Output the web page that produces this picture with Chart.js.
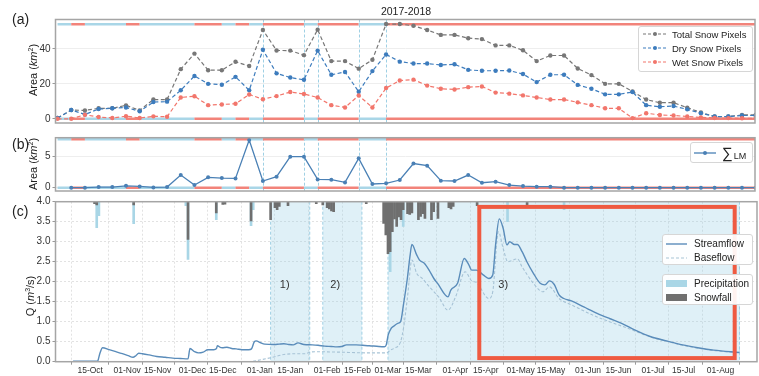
<!DOCTYPE html>
<html>
<head>
<meta charset="utf-8">
<script src="https://cdn.jsdelivr.net/npm/chart.js@4.4.1/dist/chart.umd.min.js"></script>
<style>
  body { margin: 0; background: #fff; }
  #fig { position: relative; width: 759px; height: 376px; overflow: hidden;
         font-family: "Liberation Sans", Arial, sans-serif; color: #222; }
  #fig canvas { position: absolute; left: 0; }
  .plab { position: absolute; font-size: 14px; line-height: 16px; }
  .ytitle { position: absolute; font-size: 11px; white-space: nowrap;
            transform: translate(-50%, -50%) rotate(-90deg); }
  .legend { position: absolute; border: 1px solid #d6d6d6; border-radius: 3px;
            background: rgba(255,255,255,0.92); box-sizing: border-box; }
  .item { position: absolute; left: 0; display: flex; align-items: center; white-space: nowrap; }
  .item svg { display: block; }
  #title { position: absolute; left: 406px; top: 5px; transform: translateX(-50%);
           font-size: 10.5px; }
</style>
</head>
<body>
<div id="fig">
  <canvas id="cA" width="759" height="127" style="top:0px"></canvas>
  <canvas id="cB" width="759" height="65" style="top:130px"></canvas>
  <canvas id="cC" width="759" height="181" style="top:195px"></canvas>

  <div id="title">2017-2018</div>
  <div class="plab" style="left:12px;top:11px">(a)</div>
  <div class="plab" style="left:12px;top:136px">(b)</div>
  <div class="plab" style="left:12px;top:203px">(c)</div>

  <div class="ytitle" style="left:33px;top:70px">Area (<i>km</i><sup style="font-size:7px">2</sup>)</div>
  <div class="ytitle" style="left:33px;top:164px">Area (<i>km</i><sup style="font-size:7px">2</sup>)</div>
  <div class="ytitle" style="left:30px;top:296px">Q (<i>m</i><sup style="font-size:7px">3</sup>/s)</div>

  <!-- snow pixel legend -->
  <div class="legend" style="left:638px;top:26px;width:115px;height:46px;font-size:9.5px">
    <div class="item" style="top:1px;height:12px">
      <svg width="24" height="8" style="margin-left:4px"><line x1="0" y1="4" x2="24" y2="4" stroke="#777" stroke-width="1.2" stroke-dasharray="3,2"/><circle cx="12" cy="4" r="2" fill="#777"/></svg>
      <span style="margin-left:5px">Total Snow Pixels</span></div>
    <div class="item" style="top:15px;height:12px">
      <svg width="24" height="8" style="margin-left:4px"><line x1="0" y1="4" x2="24" y2="4" stroke="#3d7cbd" stroke-width="1.2" stroke-dasharray="3,2"/><circle cx="12" cy="4" r="2" fill="#3d7cbd"/></svg>
      <span style="margin-left:5px">Dry Snow Pixels</span></div>
    <div class="item" style="top:29px;height:12px">
      <svg width="24" height="8" style="margin-left:4px"><line x1="0" y1="4" x2="24" y2="4" stroke="#f2766c" stroke-width="1.2" stroke-dasharray="3,2"/><circle cx="12" cy="4" r="2" fill="#f2766c"/></svg>
      <span style="margin-left:5px">Wet Snow Pixels</span></div>
  </div>

  <!-- lateral melt legend -->
  <div class="legend" style="left:690px;top:142px;width:63px;height:21px">
    <div class="item" style="top:1px;height:18px">
      <svg width="22" height="8" style="margin-left:3px"><line x1="0" y1="4" x2="22" y2="4" stroke="#4a80b5" stroke-width="1.3"/><circle cx="11" cy="4" r="2" fill="#4a80b5"/></svg>
      <span style="margin-left:6px;font-size:15px;line-height:16px">∑</span><span style="font-size:9px;margin-top:5px;margin-left:1px">LM</span></div>
  </div>

  <!-- streamflow legend -->
  <div class="legend" style="left:662px;top:234px;width:91px;height:31px;font-size:10px">
    <div class="item" style="top:2px;height:13px">
      <svg width="21" height="6" style="margin-left:3px"><line x1="0" y1="3" x2="21" y2="3" stroke="#5a8cba" stroke-width="1.4"/></svg>
      <span style="margin-left:7px">Streamflow</span></div>
    <div class="item" style="top:16px;height:13px">
      <svg width="21" height="6" style="margin-left:3px"><line x1="0" y1="3" x2="21" y2="3" stroke="#a7c3d6" stroke-width="1.1" stroke-dasharray="3,2"/></svg>
      <span style="margin-left:7px">Baseflow</span></div>
  </div>
  <div class="legend" style="left:662px;top:274px;width:91px;height:31px;font-size:10px">
    <div class="item" style="top:2px;height:13px">
      <svg width="21" height="7" style="margin-left:3px"><rect x="0" y="0" width="21" height="7" fill="#a9d6e6"/></svg>
      <span style="margin-left:7px">Precipitation</span></div>
    <div class="item" style="top:16px;height:13px">
      <svg width="21" height="7" style="margin-left:3px"><rect x="0" y="0" width="21" height="7" fill="#6f6f6f"/></svg>
      <span style="margin-left:7px">Snowfall</span></div>
  </div>
</div>

<script>
// ---- time axis: days counted from 1 Oct 2017 ----
const DAY_MIN = 6.1, DAY_MAX = 312.7;
const tickDays = [14, 31, 45, 61, 75, 92, 106, 123, 137, 151, 165, 182, 196, 212, 226, 243, 257, 273, 287, 304];
const tickLabels = ['15-Oct', '01-Nov', '15-Nov', '01-Dec', '15-Dec', '01-Jan', '15-Jan', '01-Feb', '15-Feb',
                    '01-Mar', '15-Mar', '01-Apr', '15-Apr', '01-May', '15-May', '01-Jun', '15-Jun', '01-Jul',
                    '15-Jul', '01-Aug'];

// ---- SAR acquisitions (6-day revisit) ----
const obsDays = [7, 13, 19, 25, 31, 37, 43, 49, 55, 61, 67, 73, 79, 85, 91, 97, 103, 109, 115, 121, 127, 133,
                 139, 145, 151, 157, 163, 169, 175, 181, 187, 193, 199, 205, 211, 217, 223, 229, 235, 241, 247,
                 253, 259, 265, 271, 277, 283, 289, 295, 301, 307, 313];
const totalSnow = [0.5, 5.0, 4.8, 6.0, 6.0, 7.7, 4.8, 11.0, 11.0, 28.4, 37.3, 27.8, 27.8, 32.6, 30.2, 50.8, 39.1,
                   39.0, 36.4, 51.0, 33.0, 33.0, 28.7, 33.8, 54.2, 54.2, 53.2, 50.8, 48.0, 48.0, 46.1, 45.6, 42.0,
                   42.0, 39.2, 33.0, 36.2, 36.2, 28.8, 25.0, 20.0, 20.0, 15.7, 11.0, 9.2, 9.2, 6.4, 3.6, 1.3, 1.3,
                   2.2, 2.2];
const drySnow = [0.5, 5.0, 2.5, 5.6, 6.0, 6.5, 4.3, 9.6, 9.8, 16.3, 24.5, 20.0, 19.5, 24.0, 16.3, 39.5, 26.0,
                 23.6, 22.3, 39.0, 25.2, 26.8, 15.5, 27.3, 36.8, 32.7, 31.6, 31.6, 30.8, 31.2, 28.0, 27.5, 27.5,
                 27.6, 25.6, 21.0, 25.2, 25.2, 19.4, 17.2, 14.0, 14.0, 15.3, 7.8, 6.9, 7.3, 5.4, 3.2, 1.3, 1.3,
                 1.9, 1.9];
const wetSnow = [0.0, 0.0, 2.3, 1.0, 0.5, 1.5, 0.5, 1.4, 1.2, 12.2, 12.9, 7.8, 8.2, 8.6, 13.9, 11.2, 13.0, 15.3,
                 14.2, 12.2, 7.8, 6.5, 13.3, 6.5, 17.6, 21.9, 22.4, 19.0, 17.2, 16.8, 18.1, 18.5, 15.0, 14.4, 13.4,
                 12.2, 11.0, 11.0, 9.4, 7.8, 6.0, 6.0, 0.4, 3.2, 2.2, 1.9, 1.3, 0.8, 0.5, 0.4, 0.3, 0.3];
// lateral melt area (sum), km2
const lateralMelt = [null, 0, 0, 0.1, 0.1, 0.3, 0.2, 0.05, 0.1, 2.04, 0.43, 1.67, 1.56, 1.5, 7.7, 1.08, 1.77,
                     5.0, 5.0, 1.34, 1.29, 0.86, 4.73, 0.6, 0.7, 1.24, 3.9, 3.55, 1.13, 1.08, 2.04, 0.8, 0.97,
                     0.43, 0.27, 0.16, 0.16, 0, 0, 0, 0, 0, 0, 0, 0, 0, 0, 0, 0, 0, 0, 0];
// 1 = wet-snow interval starting at that acquisition
const wetInterval = [0, 1, 0, 0, 0, 1, 0, 0, 0, 0, 1, 1, 0, 1, 0, 1, 1, 1, 0, 1, 1, 1, 0, 0, 1, 1, 1, 1, 1, 1,
                     1, 1, 1, 1, 1, 1, 1, 1, 1, 1, 1, 1, 1, 1, 1, 1, 1, 1, 1, 1, 1, 1];

// ---- melt periods ----
const periodStart = [97, 121, 151];
const periodEnd = [115, 139, DAY_MAX];
const periodNames = ['1)', '2)', '3)'];

// ---- discharge (m3/s) ----
const flowDays = [6.1, 12.7, 17.1, 17.5, 18.4, 19.7, 22.7, 25.8, 28.8, 31.5, 33.7, 35.0, 36.3, 38.0, 41.1, 44.6,
  48.5, 52.0, 55.5, 59.0, 59.9, 62.0, 63.8, 66.0, 68.1, 70.8, 72.1, 72.5, 73.8, 74.7, 76.9, 79.1, 81.2, 83.9,
  86.9, 88.2, 89.5, 90.4, 92.2, 94.3, 98.7, 100.9, 103.1, 105.3, 107.4, 109.6, 112.3, 116.2, 118.8, 121.9,
  124.9, 127.5, 129.7, 131.9, 136.3, 139.3, 142.4, 146.8, 149.4, 150.2, 151.1, 152.4, 153.7, 155.5, 156.8,
  158.1, 159.9, 161.2, 162.0, 164.2, 165.5, 167.7, 169.9, 172.1, 174.3, 177.3, 178.6, 179.9, 183.0, 186.1,
  188.2, 189.5, 191.7, 194.8, 197.4, 199.2, 200.5, 202.2, 204.0, 205.7, 207.0, 209.2, 210.5, 212.7, 214.9,
  217.9, 221.0, 223.2, 225.3, 227.5, 229.7, 231.9, 235.4, 241.1, 247.2, 252.9, 258.5, 264.7, 271.6, 279.1,
  286.5, 293.5, 300.9, 312.7];
const streamflow = [0.01, 0.01, 0.01, 0.02, 0.2, 0.35, 0.3, 0.25, 0.2, 0.15, 0.11, 0.15, 0.21, 0.2, 0.17, 0.13,
  0.11, 0.09, 0.08, 0.07, 0.33, 0.25, 0.22, 0.24, 0.3, 0.3, 0.33, 0.4, 0.36, 0.35, 0.36, 0.33, 0.32, 0.3, 0.3,
  0.32, 0.5, 0.52, 0.48, 0.44, 0.43, 0.44, 0.45, 0.43, 0.42, 0.47, 0.43, 0.42, 0.41, 0.39, 0.38, 0.37, 0.38,
  0.42, 0.42, 0.41, 0.4, 0.38, 0.375, 0.42, 0.67, 0.83, 0.89, 0.96, 1.0, 1.42, 2.08, 2.67, 2.93, 2.67, 2.54,
  2.46, 2.29, 2.08, 1.92, 1.67, 1.62, 1.79, 1.96, 2.58, 2.42, 2.29, 2.29, 2.17, 2.08, 2.17, 2.92, 3.57, 3.33,
  2.92, 3.0, 2.93, 2.93, 2.75, 2.5, 2.21, 1.96, 1.92, 2.02, 1.93, 1.67, 1.58, 1.52, 1.37, 1.21, 1.08, 0.96,
  0.79, 0.63, 0.52, 0.42, 0.35, 0.29, 0.23];
const baseDays = [6.1, 86.9, 92.6, 97.0, 103.1, 108.8, 113.1, 115.3, 117.5, 127.5, 142.4, 149.4, 150.2, 152.4,
  153.7, 156.8, 158.1, 159.9, 162.0, 164.2, 166.8, 169.9, 174.3, 178.6, 182.1, 186.5, 189.5, 191.7, 197.4,
  199.2, 201.8, 204.0, 206.1, 210.5, 212.7, 217.9, 222.3, 225.3, 229.7, 235.4, 247.2, 252.9, 261.6, 271.6,
  279.1, 286.5, 293.5, 300.9, 312.7];
const baseflow = [0.0, 0.0, 0.05, 0.1, 0.18, 0.2, 0.2, 0.24, 0.25, 0.24, 0.22, 0.22, 0.22, 0.3, 0.33, 0.5, 0.83,
  1.58, 2.54, 2.21, 2.08, 1.88, 1.62, 1.29, 1.62, 2.25, 2.02, 1.98, 1.58, 1.75, 3.25, 2.83, 2.5, 2.57, 2.37,
  1.96, 1.75, 1.87, 1.58, 1.42, 1.12, 1.0, 0.83, 0.62, 0.51, 0.41, 0.34, 0.28, 0.22];

// ---- daily precipitation / snowfall (mm) ----
const precipDays = [17, 18, 34, 58, 59, 72, 88, 89, 152, 158, 206, 232];
const precipMm = [6.5, 3.5, 5.5, 1.0, 14.4, 4.5, 6.0, 2.0, 17.5, 6.2, 5.0, 2.0];
const snowDays = [16, 17, 34, 59, 72, 75, 76, 88, 97, 99, 100, 101, 105, 118, 121, 123, 124, 125, 126, 141,
                  149, 150, 151, 152, 153, 154, 155, 156, 157, 158, 160, 161, 162, 165, 166, 167, 168, 171, 172,
                  174, 179, 180, 181, 192, 215];
const snowMm = [0.5, 0.8, 0.8, 9.4, 2.8, 0.7, 0.6, 4.8, 4.5, 1.5, 2.0, 1.2, 1.0, 0.5, 0.8, 1.5, 1.8, 2.3, 2.5, 0.5,
                5.4, 8.3, 13.0, 12.5, 7.5, 4.3, 6.2, 3.8, 4.5, 2.0, 3.0, 3.2, 2.8, 4.5, 3.7, 3.0, 4.2, 4.5, 2.5,
                4.2, 1.5, 1.8, 1.2, 1.0, 0.8];

// ---- styling ----
const FONT = '"Liberation Sans", Arial, sans-serif';
Chart.defaults.font.family = FONT;
const WET_RED = '#f2837a', DRY_BLUE = '#a9d6e7';
const GRID = '#eeeeee';

const pts = (xs, ys) => xs.map((x, i) => ({ x, y: ys[i] }));
// fixed y-axis width, and no extra room reserved for the end tick labels
const fixedY = s => { s.width = 55.5; s.paddingTop = 0; s.paddingBottom = 0; };

const framePlugin = {
  id: 'frame',
  afterDraw(chart) {
    const { ctx, chartArea: a } = chart;
    ctx.save();
    ctx.strokeStyle = '#a5a5a5';
    ctx.lineWidth = 1.5;
    ctx.strokeRect(a.left, a.top, a.right - a.left, a.bottom - a.top);
    ctx.restore();
  }
};

// dashed vertical marks at the start/end of each melt period
const periodEdgePlugin = {
  id: 'periodEdges',
  beforeDatasetsDraw(chart) {
    const { ctx, chartArea: a, scales: { x } } = chart;
    ctx.save();
    ctx.strokeStyle = '#9fd0e4';
    ctx.lineWidth = 1;
    ctx.setLineDash([3, 2]);
    periodStart.forEach((s, i) => {
      [s, periodEnd[i]].forEach(d => {
        if (d >= DAY_MAX) return;
        const px = Math.round(x.getPixelForValue(d)) + 0.5;
        ctx.beginPath(); ctx.moveTo(px, a.top); ctx.lineTo(px, a.bottom); ctx.stroke();
      });
    });
    ctx.restore();
  }
};

// shaded melt periods in the discharge panel
const periodShadePlugin = {
  id: 'periodShade',
  beforeDatasetsDraw(chart) {
    const { ctx, chartArea: a, scales: { x } } = chart;
    ctx.save();
    periodStart.forEach((s, i) => {
      const x0 = x.getPixelForValue(s), x1 = x.getPixelForValue(periodEnd[i]);
      ctx.fillStyle = 'rgba(150, 206, 228, 0.3)';
      ctx.fillRect(x0, a.top, x1 - x0, a.bottom - a.top);
      ctx.strokeStyle = '#9fd0e4';
      ctx.lineWidth = 1;
      ctx.setLineDash([3, 2]);
      [x0, x1].forEach(px => {
        if (px >= a.right - 1) return;
        ctx.beginPath(); ctx.moveTo(px, a.top); ctx.lineTo(px, a.bottom); ctx.stroke();
      });
    });
    ctx.restore();
  },
  afterDatasetsDraw(chart) {
    const { ctx, scales: { x, y } } = chart;
    ctx.save();
    ctx.fillStyle = '#333';
    ctx.font = '11px ' + FONT;
    ctx.textAlign = 'center';
    ctx.textBaseline = 'middle';
    const labelDays = [103.5, 126.7, 204];
    periodNames.forEach((t, i) => ctx.fillText(t, x.getPixelForValue(labelDays[i]), y.getPixelForValue(1.92)));
    // highlighted recession window
    const bx0 = x.getPixelForValue(193), bx1 = x.getPixelForValue(310.5);
    const by0 = y.getPixelForValue(3.87), by1 = y.getPixelForValue(0.09);
    ctx.strokeStyle = '#ef5a41';
    ctx.lineWidth = 4;
    ctx.strokeRect(bx0, by0, bx1 - bx0, by1 - by0);
    ctx.restore();
  }
};

function statusLine(level, yAxis) {
  return {
    data: obsDays.map(d => ({ x: d, y: level })),
    yAxisID: yAxis,
    borderWidth: 2.5,
    pointRadius: 0,
    borderColor: DRY_BLUE,
    segment: { borderColor: c => (wetInterval[c.p0DataIndex] ? WET_RED : DRY_BLUE) },
    order: 10
  };
}

function snowSeries(values, color, order) {
  return {
    data: pts(obsDays, values),
    borderColor: color,
    backgroundColor: color,
    borderWidth: 1.2,
    borderDash: [4, 2.5],
    pointRadius: 2.2,
    pointBorderWidth: 0,
    order
  };
}

const yTickStyle = { font: { size: 10 }, color: '#333', padding: 2 };
const baseOptions = () => ({
  responsive: false,
  animation: false,
  events: [],
  plugins: { legend: { display: false }, tooltip: { enabled: false } }
});

// ---- (a) snow pixels ----
new Chart(document.getElementById('cA'), {
  type: 'line',
  data: {
    datasets: [
      statusLine(54.1, 'y'), statusLine(0, 'y'),
      snowSeries(totalSnow, '#777777', 3),
      snowSeries(drySnow, '#3d7cbd', 2),
      snowSeries(wetSnow, '#f2766c', 1)
    ]
  },
  options: Object.assign(baseOptions(), {
    layout: { padding: { top: 19.5, bottom: 2, left: 0, right: 2 } },
    scales: {
      x: { type: 'linear', min: DAY_MIN, max: DAY_MAX, display: false },
      y: {
        min: -2.4, max: 56.8,
        afterFit: fixedY,
        afterBuildTicks: s => { s.ticks = [0, 20, 40].map(v => ({ value: v })); },
        ticks: yTickStyle,
        grid: { color: GRID, tickLength: 3, tickColor: '#999' },
        border: { display: false }
      }
    }
  }),
  plugins: [periodEdgePlugin, framePlugin]
});

// ---- (b) lateral melt ----
new Chart(document.getElementById('cB'), {
  type: 'line',
  data: {
    datasets: [
      statusLine(7.8, 'y'), statusLine(0, 'y'),
      {
        data: pts(obsDays, lateralMelt),
        borderColor: '#4a80b5', backgroundColor: '#4a80b5',
        borderWidth: 1.3, pointRadius: 2, pointBorderWidth: 0, order: 1
      }
    ]
  },
  options: Object.assign(baseOptions(), {
    layout: { padding: { top: 7.7, bottom: 4, left: 0, right: 2 } },
    scales: {
      x: { type: 'linear', min: DAY_MIN, max: DAY_MAX, display: false },
      y: {
        min: -0.53, max: 8.06,
        afterFit: fixedY,
        afterBuildTicks: s => { s.ticks = [0, 5].map(v => ({ value: v })); },
        ticks: yTickStyle,
        grid: { color: GRID, tickLength: 3, tickColor: '#999' },
        border: { display: false }
      }
    }
  }),
  plugins: [periodEdgePlugin, framePlugin]
});

// ---- (c) discharge with precipitation / snowfall hanging from the top ----
new Chart(document.getElementById('cC'), {
  type: 'line',
  data: {
    datasets: [
      { type: 'bar', data: pts(snowDays, snowMm), yAxisID: 'yp', backgroundColor: '#6f6f6f',
        barThickness: 2, grouped: false, order: 2 },
      { type: 'bar', data: pts(precipDays, precipMm), yAxisID: 'yp', backgroundColor: '#a9d6e6',
        barThickness: 2, grouped: false, order: 3 },
      { data: pts(baseDays, baseflow), borderColor: '#a7c3d6', borderWidth: 1.1, borderDash: [3, 2],
        pointRadius: 0, cubicInterpolationMode: 'monotone', order: 1 },
      { data: pts(flowDays, streamflow), borderColor: '#5a8cba', borderWidth: 1.4,
        pointRadius: 0, cubicInterpolationMode: 'monotone', order: 0 }
    ]
  },
  options: Object.assign(baseOptions(), {
    layout: { padding: { top: 6.7, bottom: 0, left: 0, right: 2 } },
    scales: {
      x: {
        type: 'linear', min: DAY_MIN, max: DAY_MAX,
        afterBuildTicks: s => { s.ticks = tickDays.map(v => ({ value: v })); },
        afterFit: s => { s.height = 14.3; s.paddingLeft = 0; s.paddingRight = 0; },
        ticks: {
          autoSkip: false, maxRotation: 0, minRotation: 0, padding: 1,
          font: { size: 8.5 }, color: '#333',
          callback: v => tickLabels[tickDays.indexOf(v)]
        },
        grid: { color: '#e2e2e2', tickLength: 3, tickColor: '#999' },
        border: { display: false, dash: [2, 2] }
      },
      y: {
        min: 0, max: 4,
        afterFit: fixedY,
        ticks: Object.assign({ stepSize: 0.5, callback: v => v.toFixed(1) }, yTickStyle),
        grid: { color: '#e2e2e2', tickLength: 3, tickColor: '#999' },
        border: { display: false, dash: [2, 2] }
      },
      yp: { display: false, reverse: true, min: 0, max: 40 }
    }
  }),
  plugins: [periodShadePlugin, framePlugin]
});
</script>
</body>
</html>
